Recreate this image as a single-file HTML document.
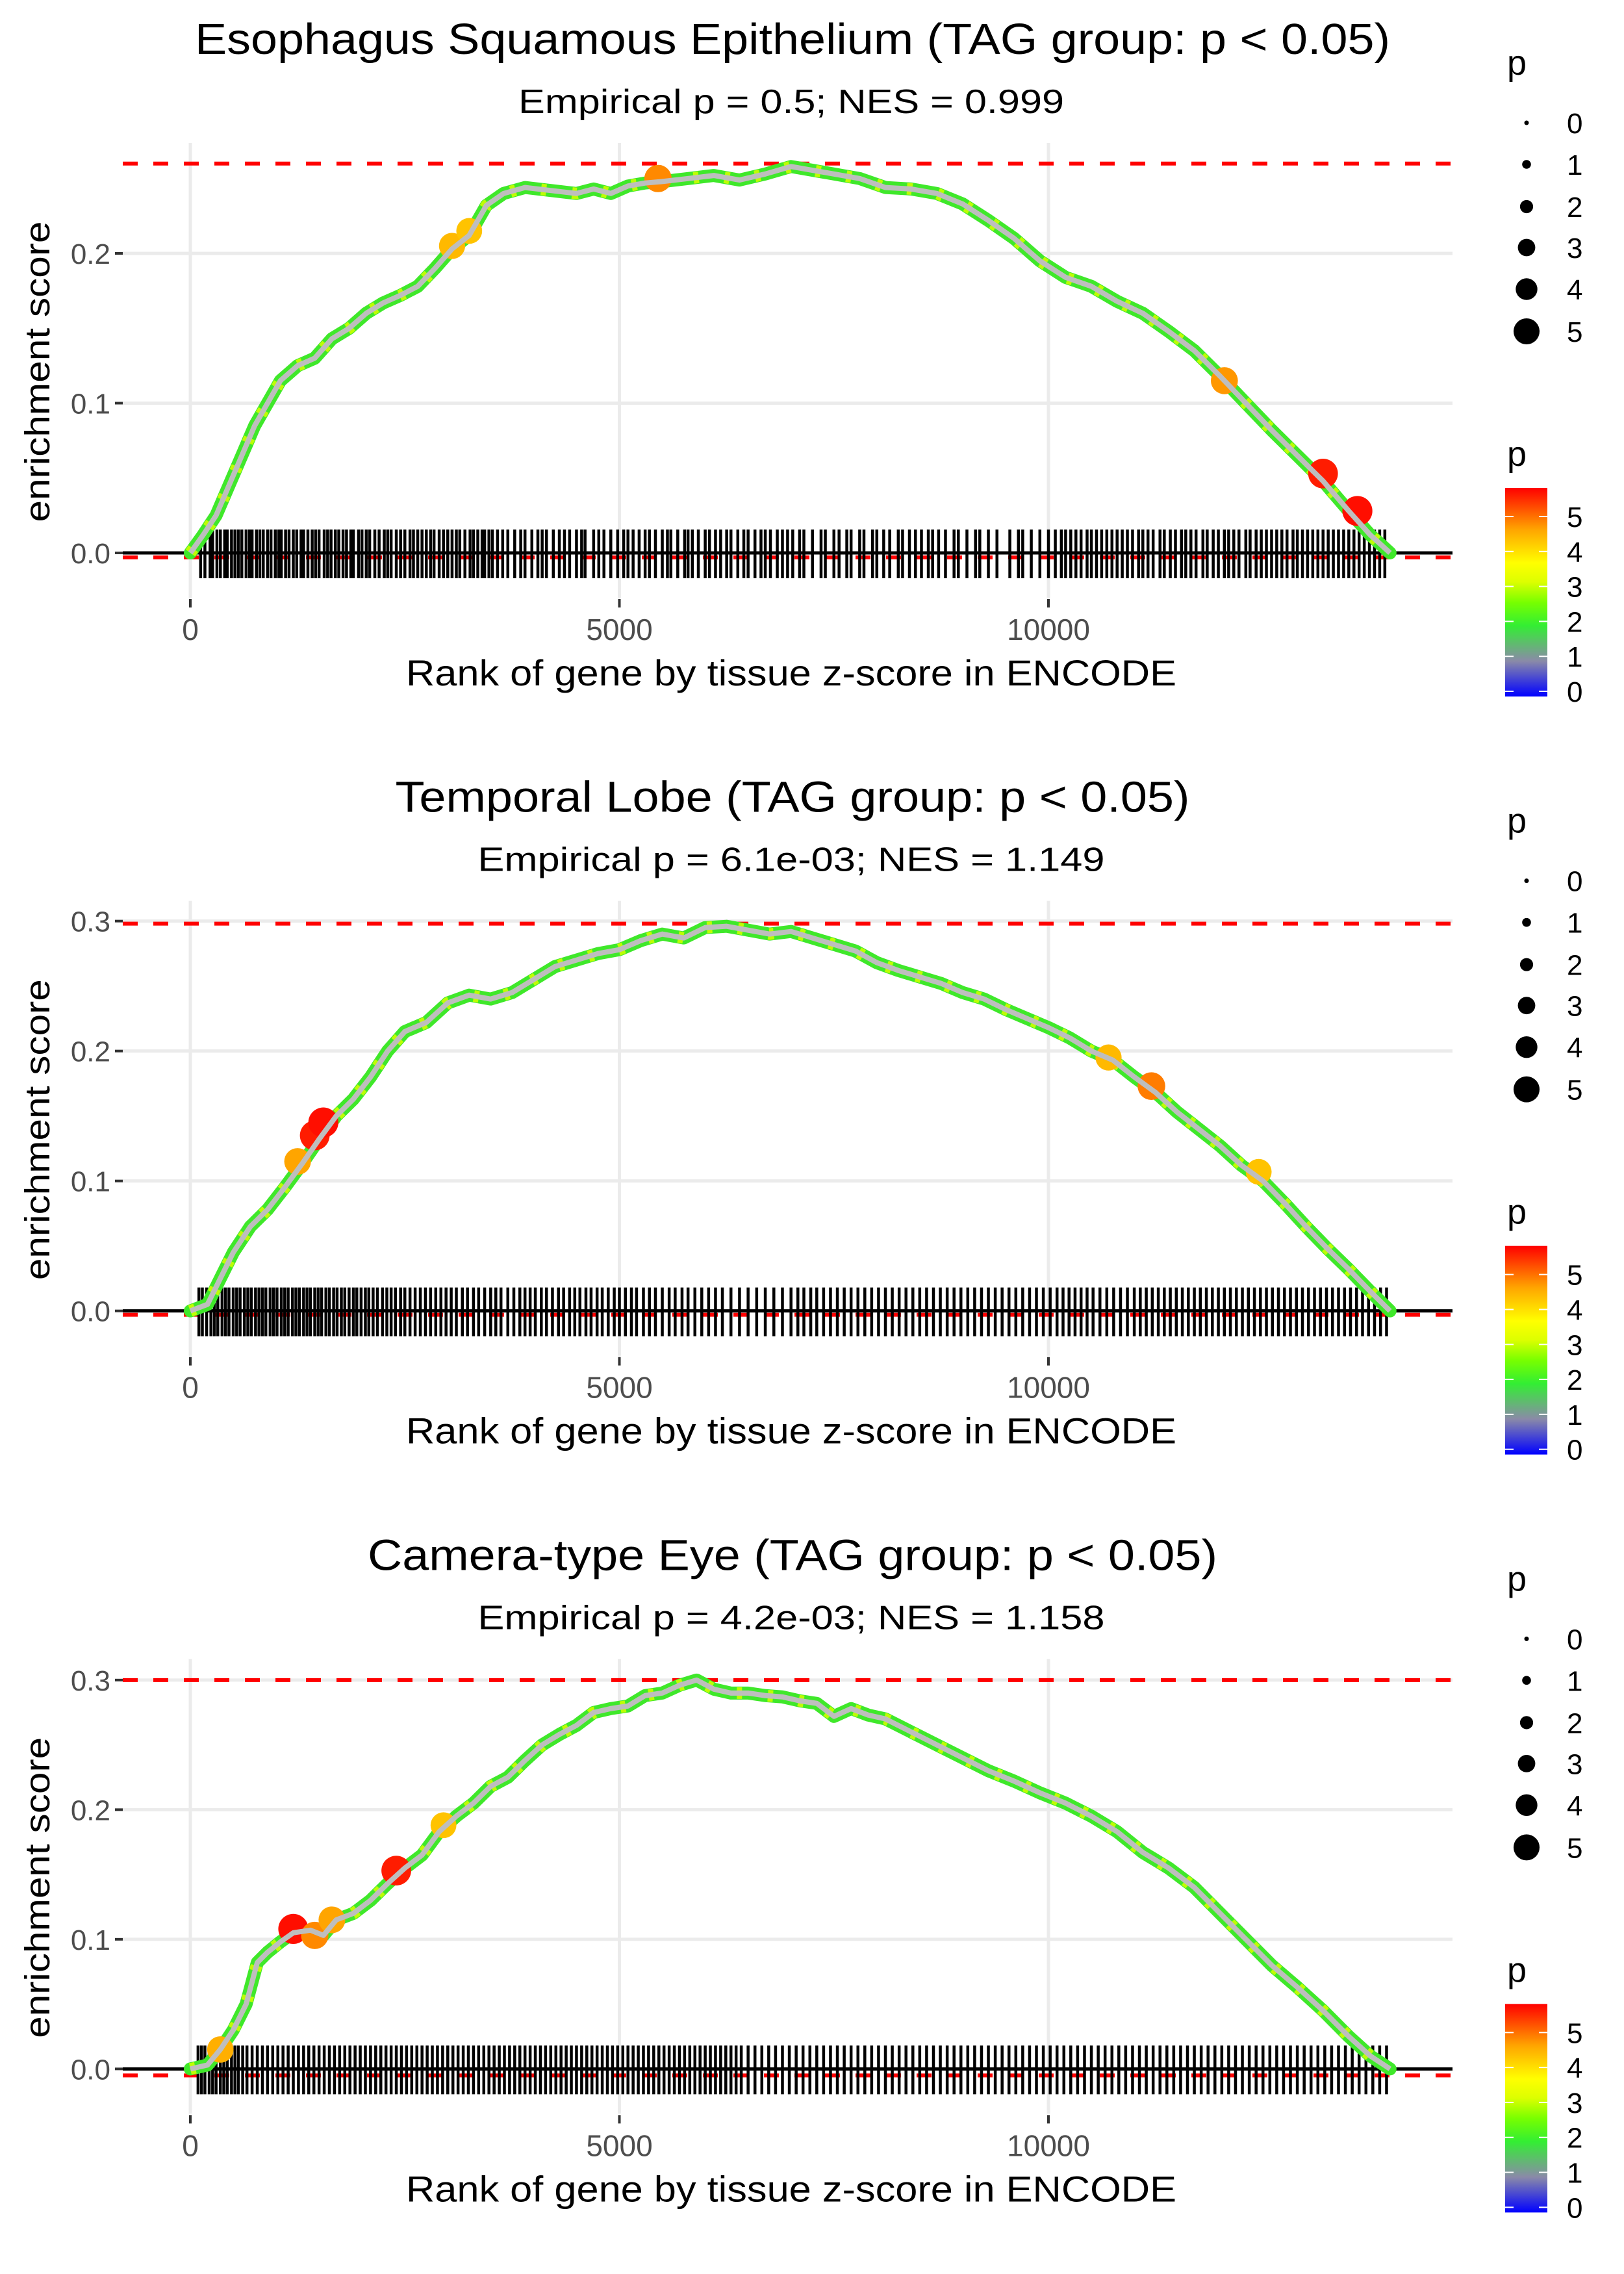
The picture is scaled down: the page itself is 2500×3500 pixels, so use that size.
<!DOCTYPE html>
<html><head><meta charset="utf-8"><title>Enrichment plots</title>
<style>
html,body{margin:0;padding:0;background:#fff;}
svg{display:block;font-family:"Liberation Sans",Arial,sans-serif;}
</style></head>
<body>
<svg id="fig" xmlns="http://www.w3.org/2000/svg" width="2500" height="3500" viewBox="0 0 2500 3500">
<defs>
<linearGradient id="pgrad" x1="0" y1="1" x2="0" y2="0">
<stop offset="0" stop-color="#0000ff"/>
<stop offset="0.17" stop-color="#8a8aa8"/>
<stop offset="0.34" stop-color="#33ee33"/>
<stop offset="0.45" stop-color="#77ff00"/>
<stop offset="0.55" stop-color="#ddff00"/>
<stop offset="0.64" stop-color="#ffff00"/>
<stop offset="0.8" stop-color="#ffa500"/>
<stop offset="1" stop-color="#ff0000"/>
</linearGradient>
</defs>
</svg>
<script>
// ---------- data ----------
const xTickValues = [0, 5000, 10000];
const xTickLabels = ["0", "5000", "10000"];
const titles = ["Esophagus Squamous Epithelium (TAG group: p < 0.05)", "Temporal Lobe (TAG group: p < 0.05)", "Camera-type Eye (TAG group: p < 0.05)"];
const subtitles = ["Empirical p = 0.5; NES = 0.999", "Empirical p = 6.1e-03; NES = 1.149", "Empirical p = 4.2e-03; NES = 1.158"];
const yTicks1 = [0, 0.1, 0.2];
const yTicks2 = [0, 0.1, 0.2, 0.3];
const yTicks3 = [0, 0.1, 0.2, 0.3];
const yTickLabels1 = ["0.0", "0.1", "0.2"];
const yTickLabels2 = ["0.0", "0.1", "0.2", "0.3"];
const yTickLabels3 = ["0.0", "0.1", "0.2", "0.3"];
const esMax = [0.26, 0.298, 0.300];
const esMin = [-0.003, -0.003, -0.005];
const sizeLegendValues = [0, 1, 2, 3, 4, 5];
const colorLegendValues = [0, 1, 2, 3, 4, 5];

const ranks1 = [0,150,300,450,600,750,900,1050,1250,1450,1650,1850,2050,2250,2450,2650,2850,3050,3250,3450,3650,3900,4200,4500,4700,4900,5100,5300,5500,5800,6100,6400,6700,7000,7200,7500,7800,8100,8400,8700,9000,9300,9600,9900,10200,10500,10800,11100,11400,11700,12000,12300,12600,12900,13200,13500,13750,13980];
const es1 = [0,0.012,0.025,0.045,0.065,0.085,0.1,0.115,0.125,0.13,0.143,0.15,0.16,0.167,0.172,0.178,0.19,0.203,0.212,0.232,0.24,0.244,0.242,0.24,0.243,0.24,0.245,0.247,0.248,0.25,0.252,0.249,0.253,0.258,0.256,0.253,0.25,0.244,0.243,0.24,0.233,0.222,0.21,0.195,0.184,0.178,0.168,0.16,0.148,0.135,0.118,0.1,0.082,0.065,0.048,0.028,0.012,0];
const bigRanks1 = [3050,3250,5450,12050,13200,13600];
const bigES1 = [0.205,0.215,0.25,0.115,0.053,0.028];
const bigP1 = [4.4,4.3,4.8,4.7,5.6,5.7];

const ranks2 = [0,200,350,500,700,900,1100,1300,1500,1700,1900,2100,2300,2500,2750,3000,3250,3500,3750,4000,4250,4500,4750,5000,5250,5500,5750,6000,6250,6500,6750,7000,7250,7500,7750,8000,8250,8500,8750,9000,9250,9500,9750,10000,10250,10500,10750,11000,11250,11500,11750,12000,12250,12500,12750,13000,13250,13500,13750,13980];
const es2 = [0,0.005,0.025,0.045,0.065,0.078,0.095,0.113,0.132,0.15,0.163,0.18,0.2,0.215,0.222,0.237,0.243,0.24,0.245,0.255,0.265,0.27,0.275,0.278,0.285,0.29,0.287,0.295,0.296,0.293,0.29,0.292,0.287,0.282,0.277,0.268,0.262,0.257,0.252,0.245,0.24,0.232,0.225,0.218,0.21,0.2,0.193,0.18,0.168,0.153,0.14,0.127,0.112,0.1,0.083,0.065,0.048,0.032,0.015,0];
const bigRanks2 = [1250,1450,1550,10700,11200,12450];
const bigES2 = [0.115,0.135,0.145,0.195,0.173,0.107];
const bigP2 = [4.6,5.6,5.7,4.4,4.9,4.3];

const ranks3 = [0,200,350,500,650,780,900,1050,1200,1400,1550,1700,1900,2100,2300,2500,2700,2900,3100,3300,3500,3700,3900,4100,4300,4500,4700,4900,5100,5300,5500,5700,5900,6100,6300,6500,6700,6900,7100,7300,7500,7700,7900,8100,8400,8700,9000,9300,9600,9900,10200,10500,10800,11100,11400,11700,12000,12300,12600,12900,13200,13500,13750,13980];
const es3 = [0,0.003,0.015,0.03,0.05,0.082,0.09,0.098,0.105,0.107,0.103,0.115,0.12,0.13,0.143,0.155,0.165,0.183,0.195,0.205,0.218,0.225,0.238,0.25,0.258,0.265,0.275,0.278,0.28,0.288,0.29,0.296,0.3,0.293,0.29,0.29,0.288,0.287,0.284,0.282,0.272,0.278,0.273,0.27,0.26,0.25,0.24,0.23,0.222,0.213,0.205,0.195,0.183,0.167,0.155,0.14,0.12,0.1,0.08,0.063,0.045,0.025,0.01,0];
const bigRanks3 = [350,1200,1450,1650,2400,2950];
const bigES3 = [0.015,0.108,0.103,0.115,0.153,0.188];
const bigP3 = [4.5,5.7,4.8,4.6,5.6,4.3];

const hits1 = [120,170,230,260,310,350,400,430,480,520,560,600,650,690,720,770,810,850,900,940,990,1030,1060,1110,1150,1200,1240,1290,1320,1370,1420,1460,1500,1560,1600,1640,1690,1730,1780,1820,1870,1900,1960,2000,2050,2090,2150,2200,2260,2300,2340,2400,2450,2500,2560,2600,2650,2700,2750,2800,2840,2900,2950,3000,3050,3100,3140,3200,3260,3300,3350,3400,3430,3480,3520,3580,3640,3700,3780,3850,3900,3980,4050,4100,4150,4230,4300,4360,4420,4500,4560,4600,4700,4760,4820,4900,4980,5050,5100,5160,5230,5300,5350,5420,5500,5560,5600,5680,5760,5800,5850,5920,6000,6050,6120,6180,6250,6300,6380,6450,6500,6580,6650,6700,6760,6840,6900,6960,7020,7100,7150,7250,7350,7400,7500,7560,7650,7700,7800,7850,7950,8000,8080,8150,8250,8300,8380,8450,8520,8600,8650,8720,8800,8900,8950,9050,9150,9200,9300,9400,9550,9650,9700,9800,9900,10000,10080,10150,10200,10260,10320,10380,10450,10500,10560,10620,10680,10740,10800,10860,10920,10980,11050,11100,11160,11220,11300,11350,11420,11480,11550,11600,11660,11720,11800,11850,11920,11980,12050,12100,12160,12220,12300,12350,12420,12480,12540,12600,12660,12720,12780,12850,12900,12960,13020,13080,13140,13200,13260,13320,13380,13440,13500,13560,13620,13680,13740,13800,13860,13920];
const hits2 = [100,140,190,240,280,320,370,410,450,500,540,580,630,670,710,760,800,840,880,930,970,1010,1060,1100,1140,1190,1230,1270,1320,1360,1400,1450,1490,1530,1580,1620,1670,1710,1760,1800,1850,1900,1940,1990,2040,2080,2130,2180,2240,2290,2340,2390,2450,2500,2560,2620,2680,2740,2800,2860,2920,2980,3040,3100,3170,3230,3300,3360,3430,3500,3560,3620,3700,3770,3840,3900,3960,4020,4090,4150,4220,4290,4350,4420,4480,4540,4610,4670,4740,4800,4870,4940,5000,5070,5140,5200,5280,5350,5420,5500,5580,5650,5730,5800,5880,5960,6040,6120,6200,6300,6400,6500,6600,6700,6800,6900,7000,7080,7150,7230,7300,7380,7460,7540,7620,7700,7780,7860,7940,8020,8100,8180,8260,8340,8420,8500,8580,8660,8740,8820,8900,8980,9060,9140,9220,9300,9380,9460,9540,9620,9700,9780,9860,9940,10020,10100,10170,10240,10310,10380,10450,10520,10600,10680,10760,10840,10920,11000,11070,11140,11210,11280,11350,11420,11490,11560,11630,11700,11770,11840,11910,11980,12050,12120,12190,12260,12330,12400,12470,12540,12610,12680,12750,12820,12890,12960,13030,13100,13170,13240,13310,13380,13450,13520,13590,13660,13730,13800,13870,13940];
const hits3 = [90,130,170,220,260,300,350,390,430,480,520,560,610,660,720,780,840,900,960,1020,1080,1140,1200,1260,1320,1380,1440,1500,1560,1620,1680,1740,1800,1860,1920,1980,2040,2100,2160,2220,2280,2340,2400,2460,2520,2580,2640,2700,2760,2820,2880,2940,3000,3060,3120,3180,3240,3300,3360,3420,3480,3540,3600,3660,3720,3780,3840,3900,3960,4020,4080,4140,4200,4260,4320,4380,4440,4500,4560,4620,4680,4740,4800,4860,4920,4980,5040,5100,5160,5220,5280,5340,5400,5460,5520,5580,5640,5700,5760,5820,5880,5940,6000,6060,6120,6180,6240,6300,6360,6420,6500,6580,6660,6740,6820,6900,6980,7060,7140,7220,7300,7380,7460,7540,7620,7700,7780,7860,7940,8020,8100,8180,8260,8340,8420,8500,8580,8660,8740,8820,8900,8980,9060,9140,9220,9300,9380,9460,9540,9620,9700,9780,9860,9940,10020,10100,10180,10260,10340,10420,10500,10580,10660,10740,10820,10900,10980,11060,11140,11220,11300,11380,11460,11540,11620,11700,11780,11860,11940,12020,12100,12180,12260,12340,12420,12500,12580,12660,12740,12820,12900,12980,13060,13140,13220,13300,13380,13460,13540,13620,13700,13780,13860,13940];

// ---------- drawing ----------
const NS = "http://www.w3.org/2000/svg";
const svg = document.getElementById("fig");
function mk(tag, attrs, parent) {
  const e = document.createElementNS(NS, tag);
  for (const k in attrs) e.setAttribute(k, attrs[k]);
  (parent || svg).appendChild(e);
  return e;
}
function xScale(r) { return 293 + r * 0.1321; }
function pColor(p) {
  const stops = [[0,[0,0,255]],[1,[138,138,168]],[2,[51,238,51]],[2.6,[119,255,0]],[3.2,[221,255,0]],[3.7,[255,255,0]],[4.6,[255,165,0]],[5.8,[255,0,0]]];
  for (let i = 1; i < stops.length; i++) {
    if (p <= stops[i][0]) {
      const t = (p - stops[i-1][0]) / (stops[i][0] - stops[i-1][0]);
      const c = stops[i-1][1].map((v, j) => Math.round(v + t * (stops[i][1][j] - v)));
      return "rgb(" + c.join(",") + ")";
    }
  }
  return "rgb(255,0,0)";
}

const panels = [
  {k: 2305, ticks: yTicks1, tlabels: yTickLabels1, ranks: ranks1, es: es1, br: bigRanks1, be: bigES1, bp: bigP1, hits: hits1, tw: 1840, sw: 840},
  {k: 2000, ticks: yTicks2, tlabels: yTickLabels2, ranks: ranks2, es: es2, br: bigRanks2, be: bigES2, bp: bigP2, hits: hits2, tw: 1223, sw: 965},
  {k: 1995, ticks: yTicks3, tlabels: yTickLabels3, ranks: ranks3, es: es3, br: bigRanks3, be: bigES3, bp: bigP3, hits: hits3, tw: 1308, sw: 965}
];

panels.forEach((P, i) => {
  const g = mk("g", {transform: "translate(0," + (i * 1166.67).toFixed(2) + ")"});
  
  
  const yS = v => 851 - v * P.k;

  const t = mk("text", {x: 1220, y: 83, "text-anchor": "middle", "font-size": 67, textLength: P.tw, lengthAdjust: "spacingAndGlyphs", fill: "#000"}, g);
  t.textContent = titles[i];
  
  
  const st = mk("text", {x: 1218, y: 174, "text-anchor": "middle", "font-size": 52, textLength: P.sw, lengthAdjust: "spacingAndGlyphs", fill: "#000"}, g);
  st.textContent = subtitles[i];
  
  

  // gridlines
  P.ticks.forEach(v => {
    const l = mk("line", {x1: 189, x2: 2236, y1: yS(v), y2: yS(v), stroke: "#ebebeb", "stroke-width": 5}, g);
    
    
  });
  xTickValues.forEach(v => {
    const l = mk("line", {x1: xScale(v), x2: xScale(v), y1: 220, y2: 920, stroke: "#ebebeb", "stroke-width": 5}, g);
    
    
  });

  // red dashed lines
  [esMax[i], esMin[i]].forEach((v, j) => {
    const l = mk("line", {x1: 189, x2: 2236, y1: yS(v), y2: yS(v), stroke: "#ff0000", "stroke-width": 6, "stroke-dasharray": "23 24"}, g);
    
    
  });

  // barcode
  const bc = mk("g", {}, g);
  
  
  P.hits.forEach(r => {
    const l = mk("line", {x1: xScale(r), x2: xScale(r), y1: 815, y2: 890, stroke: "#000", "stroke-width": 4.5}, bc);
    
    
  });

  // zero line
  const z = mk("line", {x1: 189, x2: 2236, y1: yS(0), y2: yS(0), stroke: "#000", "stroke-width": 5}, g);
  
  

  // curve
  const pts = P.ranks.map((r, j) => xScale(r).toFixed(1) + "," + yS(P.es[j]).toFixed(1)).join(" ");
  const halo = mk("polyline", {points: pts, fill: "none", stroke: "#3fe82a", "stroke-width": 20, "stroke-linejoin": "round", "stroke-linecap": "round"}, g);
  
  
  const halo2 = mk("polyline", {points: pts, fill: "none", stroke: "#ccff00", "stroke-width": 18, "stroke-linejoin": "round", "stroke-dasharray": "8 40", opacity: 0.9}, g);
  
  
  P.br.forEach((r, j) => {
    const c = mk("circle", {cx: xScale(r), cy: yS(P.be[j]), r: 10 + P.bp[j] * 2.3, fill: pColor(P.bp[j])}, g);
    
    
  });
  const line = mk("polyline", {points: pts, fill: "none", stroke: "#bebebe", "stroke-width": 8, "stroke-linejoin": "round"}, g);
  
  

  // y axis
  P.ticks.forEach((v, j) => {
    const tk = mk("line", {x1: 177, x2: 189, y1: yS(v), y2: yS(v), stroke: "#333", "stroke-width": 4}, g);
    
    
    const lb = mk("text", {x: 170, y: yS(v) + 16, "text-anchor": "end", "font-size": 44, fill: "#4d4d4d"}, g);
    lb.textContent = P.tlabels[j];
    
    
  });
  const yt = mk("text", {x: 0, y: 0, transform: "translate(76,572) rotate(-90)", "text-anchor": "middle", "font-size": 54, textLength: 463, lengthAdjust: "spacingAndGlyphs", fill: "#000"}, g);
  yt.textContent = "enrichment score";
  
  

  // x axis
  xTickValues.forEach((v, j) => {
    const tk = mk("line", {x1: xScale(v), x2: xScale(v), y1: 922, y2: 935, stroke: "#333", "stroke-width": 4}, g);
    
    
    const lb = mk("text", {x: xScale(v), y: 985, "text-anchor": "middle", "font-size": 46, fill: "#4d4d4d"}, g);
    lb.textContent = xTickLabels[j];
    
    
  });
  const xt = mk("text", {x: 1218, y: 1055, "text-anchor": "middle", "font-size": 56, textLength: 1186, lengthAdjust: "spacingAndGlyphs", fill: "#000"}, g);
  xt.textContent = "Rank of gene by tissue z-score in ENCODE";
  
  

  // size legend
  const sl = mk("g", {}, g);
  
  
  const slt = mk("text", {x: 2320, y: 115, "font-size": 54, fill: "#000"}, sl);
  slt.textContent = "p";
  
  
  const slY = [189, 253, 318, 381, 445, 510];
  sizeLegendValues.forEach((v, j) => {
    const c = mk("circle", {cx: 2350, cy: slY[j], r: 3.5 + v * 3.3, fill: "#000"}, sl);
    
    
    const lb = mk("text", {x: 2412, y: slY[j] + 16, "font-size": 44, fill: "#000"}, sl);
    lb.textContent = String(v);
    
    
  });

  // color legend
  const cl = mk("g", {}, g);
  
  
  const clt = mk("text", {x: 2320, y: 717, "font-size": 54, fill: "#000"}, cl);
  clt.textContent = "p";
  
  
  const bar = mk("rect", {x: 2317, y: 751, width: 65, height: 321, fill: "url(#pgrad)"}, cl);
  
  
  colorLegendValues.forEach(v => {
    const yy = 1064 - v * 53.8;
    [[2317, 2330], [2369, 2382]].forEach(xx => {
      const tk = mk("line", {x1: xx[0], x2: xx[1], y1: yy, y2: yy, stroke: "#fff", "stroke-width": 2}, cl);
      
      
    });
    const lb = mk("text", {x: 2412, y: yy + 16, "font-size": 44, fill: "#000"}, cl);
    lb.textContent = String(v);
    
    
  });
});
</script>
</body></html>
